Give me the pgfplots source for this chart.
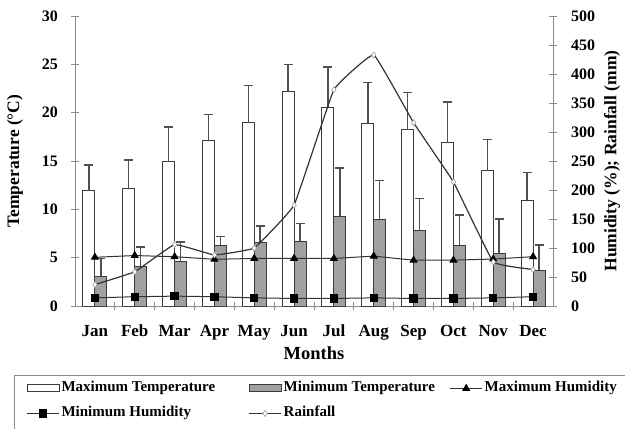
\documentclass[border=0pt]{standalone}
\usepackage{pgfplots}
\usepackage{pgfplotstable}
\pgfplotsset{compat=1.18}
\usepackage{fontspec}
\setmainfont{Liberation Serif}

\definecolor{axcol}{HTML}{8C8C8C}
\definecolor{barline}{HTML}{3C3C3C}
\definecolor{mingray}{HTML}{A0A0A0}
\definecolor{errcol}{HTML}{505050}
\definecolor{linecol}{HTML}{333333}

\pgfplotstableread{
x maxT maxE minT minE
0 11.9 2.7 3.1 1.8
1 12.2 2.9 4.1 2.0
2 14.9 3.6 4.65 1.95
3 17.1 2.7 6.3 0.9
4 19.0 3.8 6.55 1.75
5 22.2 2.8 6.65 1.9
6 20.5 4.2 9.3 5.0
7 18.9 4.2 9.0 4.0
8 18.3 3.8 7.8 3.3
9 16.9 4.2 6.25 3.15
10 14.0 3.2 5.4 3.6
11 10.9 2.9 3.7 2.6
}\temps

\pgfplotstableread{
x maxH minH rain
0 84 14 37
1 87 16 59
2 85 17 106
3 80.5 16 88
4 82 14 100
5 82 13 174
6 82 13 373
7 86 14 433
8 79 13 316
9 79 13 214
10 81 14 76
11 85 16 63
}\humid

\pgfplotsset{
  base/.style={
    scale only axis, width=478pt, height=290pt,
    xmin=-0.5, xmax=11.5,
    axis line style={axcol, line width=0.9pt},
    tick style={axcol, line width=0.9pt},
    tick align=center, major tick length=8pt,
    tick label style={font=\fontsize{16}{16}\selectfont\bfseries, text=black},
    /pgf/number format/assume math mode=true,
  },
  errs/.style={draw=none, mark=none, forget plot,
    error bars/.cd, y dir=plus, y explicit,
    error bar style={draw=errcol, line width=1.5pt},
    error mark=|,
    error mark options={draw=errcol, line width=1.5pt, mark size=4.5pt}},
  barlegend/.style={legend image code/.code={\draw[##1] (0pt,-3.5pt) rectangle (32pt,3.5pt);}},
  linelegend/.style={legend image code/.code={\draw[mark repeat=2,mark phase=2,##1] plot coordinates {(0pt,0pt) (16pt,0pt) (32pt,0pt)};}},
}

\begin{document}
\begin{tikzpicture}
\begin{axis}[base,
  axis y line*=left, axis x line*=bottom,
  ymin=0, ymax=30, ytick={0,5,...,30},
  xtick={0,...,11},
  xticklabels={Jan,Feb,Mar,Apr,May,Jun,Jul,Aug,Sep,Oct,Nov,Dec},
  minor x tick num=1, major x tick style={draw=none}, minor tick length=8pt,
  xticklabel style={font=\fontsize{17}{17}\selectfont\bfseries, anchor=base, yshift=-26pt, inner sep=0pt},
  yticklabel style={anchor=east, inner sep=0pt, xshift=-13pt},
  every axis y label/.style={at={(axis description cs:-0.1255,0.5)}, rotate=90, anchor=center, font=\fontsize{17.5}{17.5}\selectfont\bfseries},
  ylabel={Temperature (°C)},
  every axis x label/.style={at={(axis description cs:0.5,-0.162)}, anchor=center, font=\fontsize{18.5}{18.5}\selectfont\bfseries},
  xlabel={Months},
]
\addplot[errs] table[x expr=\thisrow{x}-0.1506, y=maxT, y error=maxE]{\temps};
\addplot[errs] table[x expr=\thisrow{x}+0.1506, y=minT, y error=minE]{\temps};
\addplot[ybar, bar width=12pt, bar shift=0pt, draw=barline, fill=white, line width=1pt]
  table[x expr=\thisrow{x}-0.1506, y=maxT]{\temps};
\addplot[ybar, bar width=12pt, bar shift=0pt, draw=barline, fill=mingray, line width=1pt]
  table[x expr=\thisrow{x}+0.1506, y=minT]{\temps};
\end{axis}

\begin{axis}[base,
  axis y line*=right, axis x line=none,
  ymin=0, ymax=500, ytick={0,50,...,500},
  yticklabel style={anchor=west, inner sep=0pt, xshift=14pt},
  every axis y label/.style={at={(axis description cs:1.1234,0.5)}, rotate=90, anchor=center, font=\fontsize{17.5}{17.5}\selectfont\bfseries},
  ylabel={Humidity (\%); Rainfall (mm)},
  legend columns=3,
  legend style={at={(axis description cs:-0.1276,-0.2379)}, anchor=north west,
    draw=axcol, line width=1pt, fill=white,
    inner xsep=12pt, inner ysep=5.5pt, row sep=10pt,
    font=\fontsize{15}{15}\selectfont\bfseries,
    nodes={inner sep=0pt, text height=11pt, text depth=4pt},
    cells={anchor=center}},
]
\addlegendimage{barlegend, draw=barline, fill=white, line width=1pt}
\addlegendentry{\makebox[189pt][l]{\hspace*{2pt}Maximum Temperature}}
\addlegendimage{barlegend, draw=barline, fill=mingray, line width=1pt}
\addlegendentry{\makebox[168pt][l]{\hspace*{2pt}Minimum Temperature}}
\addplot[linelegend, linecol, line width=1pt, mark=triangle*, mark size=3.8pt, mark options={fill=black, draw=black}]
  table[x=x, y=maxH]{\humid};
\addlegendentry{\makebox[150pt][l]{\hspace*{2pt}Maximum Humidity}}
\addplot[linelegend, linecol, line width=1pt, mark=square*, mark size=3.6pt, mark options={fill=black, draw=black}]
  table[x=x, y=minH]{\humid};
\addlegendentry{\makebox[189pt][l]{\hspace*{2pt}Minimum Humidity}}
\addplot[linelegend, linecol, line width=1.2pt, smooth, tension=0.15, mark=diamond*, mark size=3pt, mark options={fill=white, draw=gray!80, line width=0.6pt}]
  table[x=x, y=rain]{\humid};
\addlegendentry{\makebox[168pt][l]{\hspace*{2pt}Rainfall}}
\addlegendimage{empty legend}
\addlegendentry{}
\addlegendimage{empty legend}
\addlegendentry{}
\end{axis}
\pgfresetboundingbox
\path[use as bounding box] (-75pt,-123pt) rectangle (550pt,306pt);
\end{tikzpicture}
\end{document}
